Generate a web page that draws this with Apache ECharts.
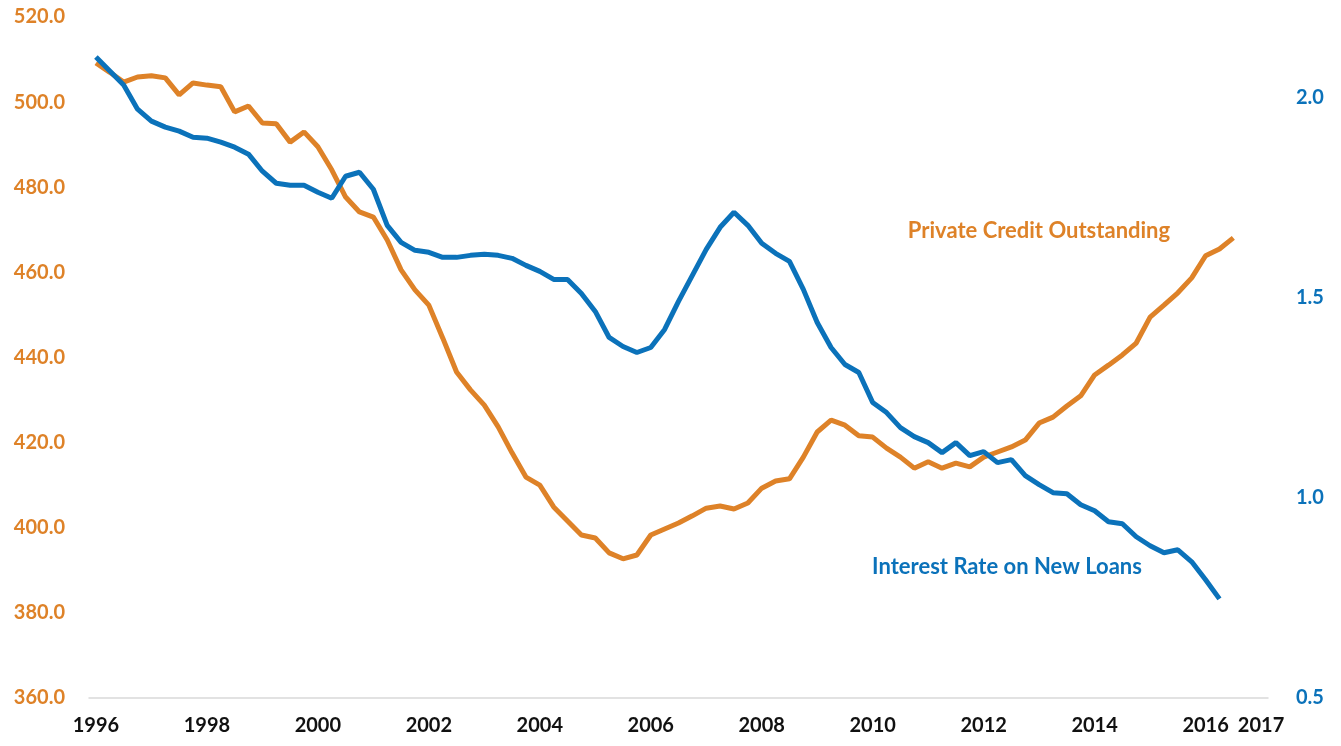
<!DOCTYPE html>
<html>
<head>
<meta charset="utf-8">
<script src="https://cdn.jsdelivr.net/npm/echarts@6/dist/echarts.min.js"></script>
<style>
  html, body { margin: 0; padding: 0; background: #fff; }
  #main { width: 1341px; height: 746px; }
</style>
</head>
<body>
<div id="main"></div>
<script>
  // quarterly, 1996Q1 .. 2017Q1
  const years = [];
  for (let y = 1996; y <= 2017; y++) years.push(y);
  const quarters = [];
  years.forEach(function(y) {
    ["Q1", "Q2", "Q3", "Q4"].forEach(function(q) {
      if (y < 2017 || q === "Q1") quarters.push(y + q);
    });
  });

  // private credit outstanding (left axis)
  const privateCredit = [
    509.2, 507.0, 504.7, 505.9, 506.2, 505.7, 501.7, 504.5, 504.0, 503.6,
    497.7, 499.1, 495.1, 494.9, 490.6, 493.0, 489.5, 484.1, 477.7, 474.2,
    473.0, 467.6, 460.6, 455.9, 452.3, 444.6, 436.6, 432.4, 428.8, 423.7,
    417.6, 411.9, 410.0, 404.9, 401.6, 398.3, 397.6, 394.1, 392.7, 393.6,
    398.3, 399.7, 401.1, 402.8, 404.6, 405.1, 404.4, 405.8, 409.3, 411.0,
    411.5, 416.6, 422.5, 425.3, 424.1, 421.6, 421.3, 418.7, 416.6, 414.0,
    415.5, 414.0, 415.2, 414.3, 416.6, 417.8, 419.0, 420.6, 424.6, 426.0,
    428.6, 431.0, 435.9, 438.2, 440.6, 443.4, 449.5, 452.3, 455.2, 458.7,
    463.9, 465.5, 468.1
  ];

  // interest rate on new loans (right axis)
  const interestRate = [
    2.10, 2.065, 2.03, 1.97, 1.94, 1.925, 1.915, 1.90, 1.8975, 1.8875,
    1.875, 1.8575, 1.815, 1.785, 1.78, 1.78, 1.7625, 1.7475, 1.8025, 1.8125,
    1.77, 1.68, 1.6375, 1.6175, 1.6125, 1.60, 1.60, 1.605, 1.6075, 1.605,
    1.5975, 1.58, 1.565, 1.545, 1.545, 1.51, 1.465, 1.40, 1.3775, 1.3625,
    1.375, 1.42, 1.49, 1.555, 1.62, 1.675, 1.7125, 1.68, 1.635, 1.61,
    1.59, 1.52, 1.4375, 1.375, 1.3325, 1.3125, 1.2375, 1.2125, 1.175, 1.1525,
    1.1375, 1.1125, 1.1375, 1.105, 1.115, 1.0875, 1.095, 1.055, 1.0325, 1.0125,
    1.01, 0.9825, 0.9675, 0.94, 0.935, 0.9025, 0.88, 0.8625, 0.87, 0.84,
    0.795, 0.7475
  ];

  const orange = "#DE8228";
  const blue = "#0B72BA";
  const font = "Lato, 'Open Sans', sans-serif";
  const lastIdx = quarters.length - 1;

  const chart = echarts.init(document.getElementById("main"));
  chart.setOption({
    backgroundColor: "#fff",
    animation: false,
    grid: { left: 89, right: 73, top: 17, bottom: 48 },
    xAxis: {
      type: "category",
      data: quarters,
      boundaryGap: true,
      axisLine: { show: true, lineStyle: { color: "#D9D9D9", width: 1.5 } },
      axisTick: { show: false },
      axisLabel: {
        interval: function(index) {
          return index % 8 === 0 || index === lastIdx;
        },
        formatter: function(v) {
          return v.slice(0, 4);
        },
        color: "#111",
        fontFamily: font,
        fontWeight: "bold",
        fontSize: 20,
        margin: 18
      },
      splitLine: { show: false }
    },
    yAxis: [
      {
        type: "value",
        min: 360,
        max: 520,
        interval: 20,
        axisLine: { show: false },
        axisTick: { show: false },
        splitLine: { show: false },
        axisLabel: {
          color: orange,
          fontFamily: font,
          fontWeight: "bold",
          fontSize: 20,
          margin: 24,
          formatter: function(v) {
            return v.toFixed(1);
          }
        }
      },
      {
        type: "value",
        min: 0.5,
        max: 2.2,
        interval: 0.5,
        position: "right",
        axisLine: { show: false },
        axisTick: { show: false },
        splitLine: { show: false },
        axisLabel: {
          color: blue,
          fontFamily: font,
          fontWeight: "bold",
          fontSize: 20,
          margin: 28,
          showMaxLabel: false,
          formatter: function(v) {
            return v.toFixed(1);
          }
        }
      }
    ],
    series: [
      {
        name: "Private Credit Outstanding",
        type: "line",
        yAxisIndex: 0,
        data: privateCredit,
        showSymbol: false,
        lineStyle: { color: orange, width: 5 },
        itemStyle: { color: orange }
      },
      {
        name: "Interest Rate on New Loans",
        type: "line",
        yAxisIndex: 1,
        data: interestRate,
        showSymbol: false,
        lineStyle: { color: blue, width: 5 },
        itemStyle: { color: blue }
      }
    ],
    graphic: [
      {
        type: "text",
        x: 1039,
        y: 231,
        style: {
          text: "Private Credit Outstanding",
          fill: orange,
          font: "bold 22px " + font,
          textAlign: "center",
          textVerticalAlign: "middle"
        }
      },
      {
        type: "text",
        x: 1007,
        y: 567,
        style: {
          text: "Interest Rate on New Loans",
          fill: blue,
          font: "bold 22px " + font,
          textAlign: "center",
          textVerticalAlign: "middle"
        }
      }
    ]
  });
</script>
</body>
</html>
